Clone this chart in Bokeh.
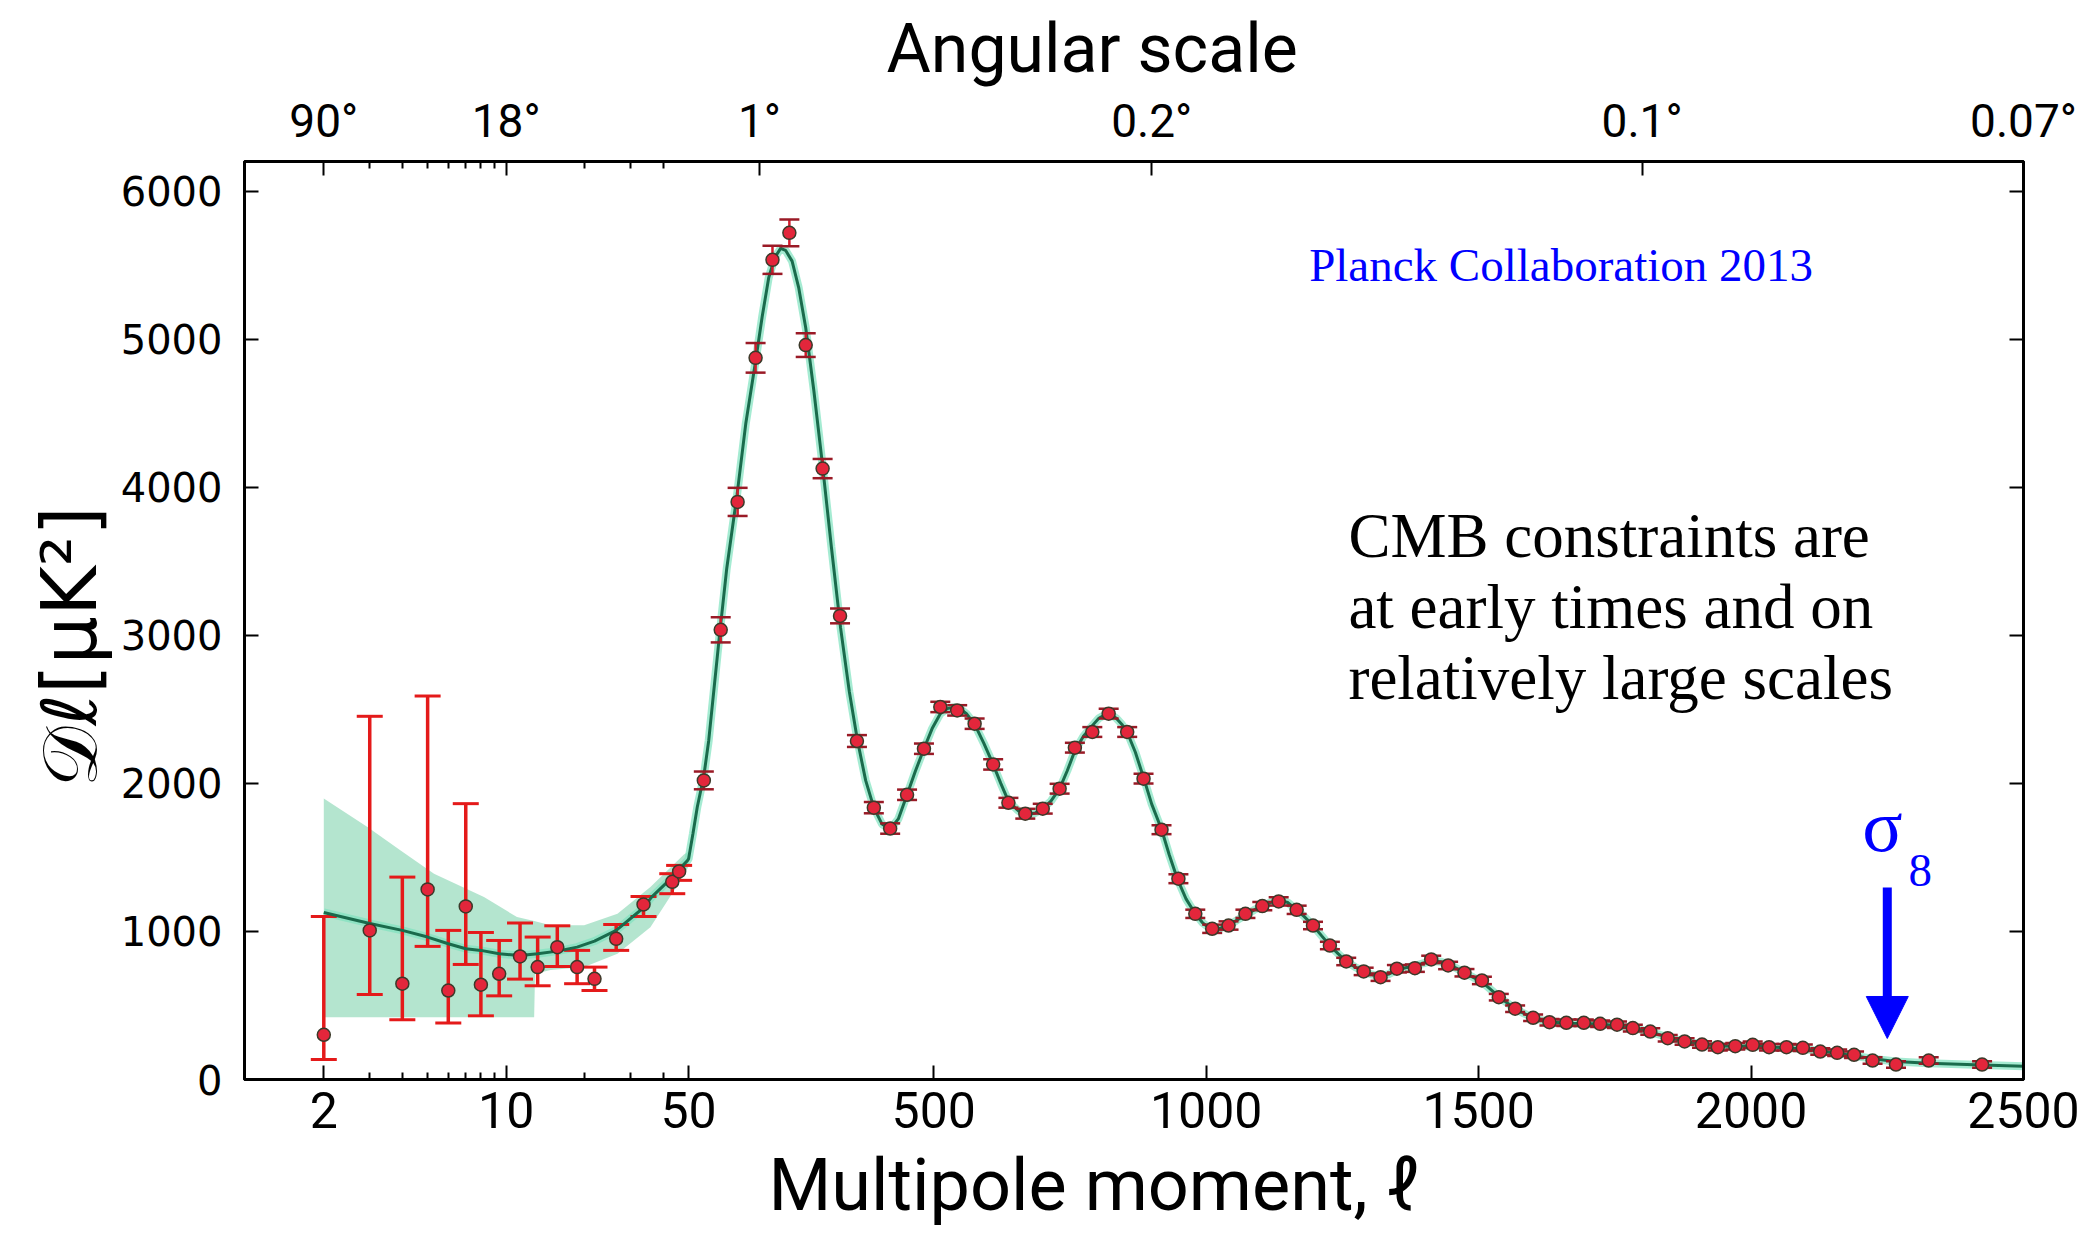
import numpy as np
from bokeh.plotting import figure
from bokeh.models import (Range1d, LinearAxis, FixedTicker, CustomJSTickFormatter,
                          Label, Arrow, NormalHead, Title)
from bokeh.embed import file_html
from bokeh.resources import INLINE

# ---------------- data ----------------
# theory curve: multipole l and D_l [muK^2]
theory_l = [2, 3, 4, 5, 6, 7, 8, 9.4, 11.3, 13.2, 15.7, 18.7, 21.8, 26.4, 33.6, 36, 41.4, 46, 49.5,
            50, 58, 66, 78, 87, 105.6, 120, 139, 155, 173, 185, 197, 208, 219, 228, 240, 252, 265,
            280, 295, 312, 329, 345, 360, 375, 390, 405, 420, 435, 451, 466, 482, 497, 512, 525,
            537, 550, 560, 575, 592, 609, 623, 637, 655, 672, 686, 700, 715, 731, 745, 759, 775,
            791, 803, 815, 825, 835, 845, 855, 870, 885, 900, 918, 932, 947, 963, 980, 993, 1005,
            1020, 1041, 1056, 1072, 1088, 1103, 1118, 1130, 1140, 1150, 1166, 1180, 1196, 1212,
            1227, 1242, 1257, 1273, 1289, 1305, 1320, 1335, 1350, 1366, 1383, 1398, 1413, 1430,
            1444, 1459, 1474, 1490, 1506, 1521, 1537, 1552, 1567, 1583, 1600, 1615, 1630, 1661,
            1693, 1723, 1754, 1783, 1815, 1847, 1878, 1910, 1939, 1971, 2003, 2033, 2065, 2095,
            2127, 2158, 2189, 2223, 2266, 2326, 2424, 2500]
theory_d = [1128, 1054, 1007, 962, 917, 883, 872, 849, 838, 849, 867, 894, 935, 1007, 1160, 1230, 1333, 1420, 1478,
            1490, 1660, 1840, 2050, 2290, 2959, 3450, 3950, 4430, 4851, 5150, 5414, 5550, 5613, 5600, 5527, 5350, 5077,
            4650, 4176, 3600, 3050, 2620, 2290, 2020, 1836, 1725, 1690, 1760, 1923, 2080, 2234, 2370, 2470, 2505,
            2515, 2500, 2470, 2400, 2270, 2128, 2000, 1880, 1815, 1790, 1800, 1830, 1880, 1964, 2085, 2220, 2320,
            2390, 2440, 2465, 2465, 2440, 2400, 2345, 2210, 2040, 1860, 1690, 1520, 1356, 1220, 1119, 1060, 1025,
            1015, 1040, 1075, 1110, 1145, 1172, 1195, 1205, 1205, 1195, 1146, 1100, 1040, 970,
            905, 850, 797, 760, 730, 708, 697, 712, 740, 755, 768, 785, 800, 796,
            778, 752, 721, 690, 660, 612, 560, 518, 478, 446, 417, 400, 390, 380,
            378, 374, 365, 347, 322, 285, 258, 237, 226, 225, 226, 220, 214, 206,
            192, 177, 160, 140, 122, 110, 98, 90]

# cosmic-variance band at low l
band_l = [2, 2.94, 3.94, 5.29, 8.22, 11.0, 12.8, 12.9, 14.8, 19.9, 26.7, 35.7, 48, 50]
band_hi = [1897, 1705, 1547, 1390, 1232, 1097, 1070, 1068, 1041, 1041, 1120, 1300, 1520, 1540]
band_lo = [421, 421, 421, 421, 421, 421, 421, 714, 740, 759, 849, 1029, 1380, 1440]

# low-l data points (asymmetric errors)
low_l = [2, 3, 4, 5, 6, 7, 8, 9.4, 11.3, 13.2, 15.7, 18.7, 21.8, 26.4, 33.6, 43.3, 46]
low_d = [302, 1007, 647, 1284, 601, 1169, 640, 714, 831, 759, 894, 759, 680, 950, 1182, 1335, 1405]
low_lo = [135, 574, 403, 899, 381, 777, 430, 565, 678, 633, 763, 647, 601, 872, 1101, 1255, 1345]
low_hi = [1101, 2453, 1367, 2590, 1007, 1863, 993, 939, 1057, 962, 1038, 872, 759, 1047, 1236, 1390, 1446]

# high-l binned data points (symmetric errors)
high_l = [78, 109, 140, 173, 204, 235, 265, 296, 328, 359, 390, 420, 451, 482, 512, 543, 575, 609,
          637, 668, 700, 731, 759, 791, 821, 855, 885, 918, 949, 980, 1011, 1041, 1072, 1103, 1133,
          1166, 1196, 1227, 1257, 1289, 1320, 1350, 1383, 1413, 1444, 1474, 1506, 1537, 1567, 1600,
          1630, 1661, 1693, 1723, 1754, 1783, 1815, 1847, 1878, 1910, 1939, 1971, 2003, 2033, 2065,
          2095, 2127, 2158, 2189, 2223, 2266, 2326, 2424]
high_d = [2020, 3037, 3901, 4874, 5536, 5718, 4960, 4126, 3131, 2286, 1836, 1695, 1923, 2234, 2516, 2493, 2403, 2128,
          1869, 1795, 1829, 1964, 2241, 2347, 2471, 2347, 2032, 1687, 1356, 1119, 1018, 1040, 1119, 1171, 1203,
          1146, 1040, 905, 797, 730, 691, 748, 752, 811, 770, 721, 669, 556, 478, 417,
          387, 383, 383, 376, 370, 347, 324, 279, 257, 236, 218, 225, 234, 218, 218,
          214, 189, 180, 167, 128, 101, 128, 101]
high_err = [60, 85, 95, 100, 95, 90, 80, 65, 50, 40, 38, 35, 35, 35, 35, 35, 35, 35,
            33, 33, 33, 33, 33, 33, 33, 33, 33, 30, 30, 28, 28, 28, 28, 28, 28,
            28, 25, 25, 25, 25, 25, 25, 25, 25, 25, 25, 25, 22, 22, 22,
            22, 22, 22, 22, 22, 22, 22, 22, 22, 22, 22, 22, 22, 22, 22,
            22, 22, 22, 22, 22, 22, 22, 22]

# axis ticks
bottom_tick_l = [2, 10, 50, 500, 1000, 1500, 2000, 2500]
bottom_tick_labels = ["2", "10", "50", "500", "1000", "1500", "2000", "2500"]
bottom_minor_l = [3, 4, 5, 6, 7, 8, 9, 20, 30, 40]
top_tick_l = [2, 10, 180, 900, 1800, 2500]
top_tick_labels = ["90°", "18°", "1°", "0.2°", "0.1°", "0.07°"]
y_ticks = [0, 1000, 2000, 3000, 4000, 5000, 6000]

# ---------------- hybrid log / linear l axis ----------------
K = 478.9  # log part: data units per decade (l < 50)


def T(l):
    l = np.asarray(l, dtype=float)
    return np.where(l < 50, 50 - K * np.log10(50.0 / l), l)


def fmt(tvals, tlabels):
    return CustomJSTickFormatter(args=dict(tvals=tvals, tlabels=tlabels), code="""
        for (let i = 0; i < tvals.length; i++) {
            if (Math.abs(tvals[i] - tick) < 0.01) { return tlabels[i]; }
        }
        return '';
    """)


p = figure(width=2088, height=1242, output_backend="svg", toolbar_location=None,
           x_range=Range1d(-765, 2500), y_range=Range1d(0, 6200),
           min_border_left=244, min_border_right=65, min_border_top=161, min_border_bottom=163,
           background_fill_color="white", border_fill_color="white")
p.xgrid.visible = False
p.ygrid.visible = False
p.outline_line_color = "black"
p.outline_line_width = 3

TICK_FONT = "Roboto"

# bottom axis
bt = [float(v) for v in T(bottom_tick_l)]
xa = p.xaxis[0]
xa.ticker = FixedTicker(ticks=bt, minor_ticks=[float(v) for v in T(bottom_minor_l)])
xa.formatter = fmt(bt, bottom_tick_labels)
xa.major_label_text_font = TICK_FONT
xa.major_label_text_font_size = "50px"
xa.major_label_standoff = 12

# left axis
ya = p.yaxis[0]
ya.ticker = FixedTicker(ticks=y_ticks)
ya.major_label_text_font = "DejaVu Sans"
ya.major_label_text_font_size = "40px"
ya.major_label_standoff = 22

# top axis (angular scale)
tt = [float(v) for v in T(top_tick_l)]
top = LinearAxis(ticker=FixedTicker(ticks=tt, minor_ticks=[float(v) for v in T(bottom_minor_l)]),
                 formatter=fmt(tt, top_tick_labels))
top.major_label_text_font = TICK_FONT
top.major_label_text_font_size = "46px"
top.major_label_standoff = 14
p.add_layout(top, "above")

# right axis (ticks only)
right = LinearAxis(ticker=FixedTicker(ticks=y_ticks),
                   formatter=CustomJSTickFormatter(code="return '';"))
p.add_layout(right, "right")

for ax in [xa, ya, top, right]:
    ax.axis_line_width = 3
    ax.axis_line_color = "black"
    ax.major_tick_in = 14
    ax.major_tick_out = 0
    ax.minor_tick_in = 7
    ax.minor_tick_out = 0
    ax.major_tick_line_width = 2
    ax.minor_tick_line_width = 2
    ax.major_label_text_color = "black"
ya.minor_tick_line_color = None
right.minor_tick_line_color = None

# axis titles as Title objects (allow offset like the reference)
p.add_layout(Title(text="Angular scale", align="left", offset=642, text_font=TICK_FONT,
                   text_font_size="68px", text_font_style="normal", text_color="black",
                   standoff=4), "above")
p.add_layout(Title(text="Multipole moment, ℓ", align="left", offset=524, text_font=TICK_FONT,
                   text_font_size="72px", text_font_style="normal", text_color="black",
                   standoff=20), "below")
p.add_layout(Title(text="𝒟ℓ[μK²]", align="left", offset=293, text_font="DejaVu Sans",
                   text_font_size="76px", text_font_style="normal", text_color="black",
                   standoff=8), "left")

# ---------------- glyphs ----------------
p.varea(x=T(band_l), y1=band_lo, y2=band_hi, fill_color="#ace2ca", fill_alpha=0.9)

tx = T(theory_l)
p.line(tx, theory_d, line_color="#7fe3bf", line_width=8, line_alpha=0.7)

# low-l error bars
lx = T(low_l)
p.segment(x0=lx, y0=low_lo, x1=lx, y1=low_hi, line_color="#e41a1a", line_width=3.5)
p.scatter(lx, low_hi, marker="dash", size=26, line_color="#e41a1a", line_width=3)
p.scatter(lx, low_lo, marker="dash", size=26, line_color="#e41a1a", line_width=3)

p.line(tx, theory_d, line_color="#1a6b4c", line_width=3)

# high-l error bars
hx = T(high_l)
hd = np.array(high_d, dtype=float)
he = np.array(high_err, dtype=float)
p.segment(x0=hx, y0=hd - he, x1=hx, y1=hd + he, line_color="#d21c2c", line_width=2.5)
p.scatter(hx, hd + he, marker="dash", size=20, line_color="#9a1a26", line_width=2.5)
p.scatter(hx, hd - he, marker="dash", size=20, line_color="#9a1a26", line_width=2.5)

# data points
p.scatter(lx, low_d, size=13, fill_color="#e3263b", line_color="#3b3a2a", line_width=1.5)
p.scatter(hx, hd, size=13, fill_color="#e3263b", line_color="#3b3a2a", line_width=1.5)

# ---------------- annotations ----------------
p.add_layout(Label(x=1189, y=5500, text="Planck Collaboration 2013", text_font="Liberation Serif",
                   text_font_size="47px", text_color="#0000ff", text_baseline="alphabetic"))
for txt, yy in [("CMB constraints are", 3672), ("at early times and on", 3192),
                ("relatively large scales", 2713)]:
    p.add_layout(Label(x=1261, y=yy, text=txt, text_font="Liberation Serif",
                       text_font_size="63px", text_color="black", text_baseline="alphabetic"))

p.add_layout(Label(x=2204, y=1716, text="σ", text_font="Liberation Serif",
                   text_font_size="75px", text_color="#0000ff", text_baseline="alphabetic"))
p.add_layout(Label(x=2289, y=1412, text="8", text_font="Liberation Serif",
                   text_font_size="47px", text_color="#0000ff", text_baseline="alphabetic"))
p.add_layout(Arrow(end=NormalHead(size=42, fill_color="#0000ff", line_color="#0000ff", line_width=1),
                   x_start=2250, y_start=1297, x_end=2250, y_end=277,
                   line_color="#0000ff", line_width=9))

open("out.html", "w").write(file_html(p, INLINE))
